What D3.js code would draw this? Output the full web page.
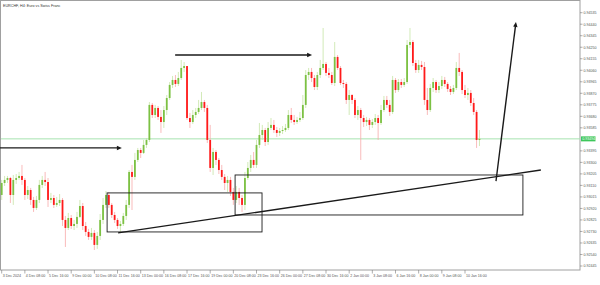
<!DOCTYPE html>
<html>
<head>
<meta charset="utf-8">
<script src="https://cdn.jsdelivr.net/npm/d3@7"></script>
<style>
  body { margin: 0; background: #fff; }
  svg { display: block; font-family: "Liberation Sans", Arial, sans-serif; }
</style>
</head>
<body>
<svg id="chart" width="600" height="285"></svg>
<script>
// EURCHF H4 candles (bar index 0 = 3 Dec 2024 00:00)
const opens = [0.93031,
  0.93130,0.93155,0.93171,0.93031,0.93155,0.93171,0.93188,0.93155,0.93031,0.93072,
  0.92990,0.92924,0.92990,0.93114,0.93155,0.93138,0.92990,0.93006,0.92949,0.92965,
  0.92990,0.92825,0.92759,0.92841,0.92775,0.92792,0.92850,0.92940,0.92775,0.92726,
  0.92685,0.92718,0.92619,0.92693,0.92825,0.92949,0.93031,0.92949,0.92866,0.92825,
  0.92775,0.92792,0.92858,0.92949,0.93221,0.93180,0.93320,0.93402,0.93378,0.93444,
  0.93485,0.93774,0.93691,0.93749,0.93675,0.93633,0.93732,0.93831,0.93939,0.93980,
  0.93947,0.93996,0.94079,0.94095,0.93666,0.93633,0.93691,0.93716,0.93749,0.93798,
  0.93749,0.93485,0.93254,0.93386,0.93320,0.93237,0.93180,0.93130,0.93155,0.93056,
  0.92990,0.93056,0.93006,0.92949,0.93171,0.93254,0.93320,0.93279,0.93444,0.93526,
  0.93567,0.93468,0.93584,0.93609,0.93567,0.93543,0.93559,0.93567,0.93584,0.93691,
  0.93650,0.93633,0.93650,0.93666,0.93774,0.94021,0.94046,0.93996,0.93922,0.94021,
  0.94079,0.94112,0.94038,0.94021,0.93955,0.94170,0.94079,0.93955,0.93947,0.93815,
  0.93856,0.93815,0.93691,0.93732,0.93666,0.93633,0.93650,0.93609,0.93633,0.93666,
  0.93625,0.93732,0.93815,0.93774,0.93716,0.93980,0.93897,0.93963,0.93939,0.93963,
  0.94269,0.94293,0.94120,0.94062,0.94104,0.94087,0.93815,0.93732,0.93914,0.93963,
  0.93897,0.93930,0.93980,0.93947,0.93906,0.93881,0.93914,0.94079,0.94046,0.93897,
  0.93856,0.93873,0.93790,0.93716,0.93485];

const closes = [
  0.93130,0.93155,0.93171,0.93031,0.93155,0.93171,0.93188,0.93155,0.93031,0.93072,
  0.92990,0.92924,0.92990,0.93114,0.93155,0.93138,0.92990,0.93006,0.92949,0.92965,
  0.92990,0.92825,0.92759,0.92841,0.92775,0.92792,0.92850,0.92940,0.92775,0.92726,
  0.92685,0.92718,0.92619,0.92693,0.92825,0.92949,0.93031,0.92949,0.92866,0.92825,
  0.92775,0.92792,0.92858,0.92949,0.93221,0.93180,0.93320,0.93402,0.93378,0.93444,
  0.93485,0.93774,0.93691,0.93749,0.93675,0.93633,0.93732,0.93831,0.93939,0.93980,
  0.93947,0.93996,0.94079,0.94095,0.93666,0.93633,0.93691,0.93716,0.93749,0.93798,
  0.93749,0.93485,0.93254,0.93386,0.93320,0.93237,0.93180,0.93130,0.93155,0.93056,
  0.92990,0.93056,0.93006,0.92949,0.93171,0.93254,0.93320,0.93279,0.93444,0.93526,
  0.93567,0.93468,0.93584,0.93609,0.93567,0.93543,0.93559,0.93567,0.93584,0.93691,
  0.93650,0.93633,0.93650,0.93666,0.93774,0.94021,0.94046,0.93996,0.93922,0.94021,
  0.94079,0.94112,0.94038,0.94021,0.93955,0.94170,0.94079,0.93955,0.93947,0.93815,
  0.93856,0.93815,0.93691,0.93732,0.93666,0.93633,0.93650,0.93609,0.93633,0.93666,
  0.93625,0.93732,0.93815,0.93774,0.93716,0.93980,0.93897,0.93963,0.93939,0.93963,
  0.94269,0.94293,0.94120,0.94062,0.94104,0.94087,0.93815,0.93732,0.93914,0.93963,
  0.93897,0.93930,0.93980,0.93947,0.93906,0.93881,0.93914,0.94079,0.94046,0.93897,
  0.93856,0.93873,0.93790,0.93716,0.93485,0.93494];

const highs = [
  0.93155,0.93188,0.93188,0.93180,0.93196,0.93204,0.93221,0.93279,0.93171,0.93105,
  0.93089,0.93015,0.93023,0.93155,0.93188,0.93221,0.93171,0.93048,0.93031,0.93015,
  0.93039,0.93006,0.92858,0.92883,0.92866,0.92825,0.92891,0.92990,0.92965,0.92808,
  0.92751,0.92759,0.92742,0.92726,0.92874,0.93006,0.93064,0.93056,0.92965,0.92891,
  0.92841,0.92817,0.92883,0.92990,0.93237,0.93279,0.93378,0.93419,0.93419,0.93485,
  0.93501,0.93798,0.93790,0.93774,0.93765,0.93732,0.93765,0.93856,0.93963,0.94013,
  0.94021,0.94046,0.94145,0.94128,0.94095,0.93708,0.93732,0.93749,0.93815,0.93881,
  0.93815,0.93774,0.93609,0.93419,0.93402,0.93336,0.93279,0.93204,0.93188,0.93180,
  0.93089,0.93105,0.93089,0.93031,0.93221,0.93303,0.93361,0.93386,0.93485,0.93625,
  0.93609,0.93584,0.93633,0.93666,0.93650,0.93592,0.93584,0.93600,0.93617,0.93732,
  0.93749,0.93691,0.93675,0.93716,0.93856,0.94062,0.94079,0.94079,0.94021,0.94046,
  0.94145,0.94409,0.94128,0.94079,0.94046,0.94293,0.94186,0.94095,0.93980,0.93963,
  0.93897,0.93864,0.93831,0.93765,0.93749,0.93691,0.93675,0.93666,0.93658,0.93699,
  0.93691,0.93774,0.93848,0.93848,0.93815,0.94013,0.93996,0.93988,0.93988,0.93996,
  0.94310,0.94409,0.94310,0.94145,0.94145,0.94137,0.94128,0.93914,0.93947,0.93996,
  0.93980,0.93963,0.94013,0.94005,0.93963,0.93930,0.93939,0.94128,0.94203,0.94062,
  0.93939,0.93914,0.93897,0.93831,0.93732,0.93567];

const lows = [
  0.92990,0.93105,0.93130,0.92965,0.92949,0.93122,0.93155,0.93114,0.92990,0.92998,
  0.92949,0.92891,0.92907,0.92965,0.93089,0.93105,0.92932,0.92965,0.92924,0.92932,
  0.92940,0.92775,0.92602,0.92742,0.92751,0.92742,0.92759,0.92841,0.92742,0.92693,
  0.92660,0.92660,0.92577,0.92586,0.92660,0.92792,0.92924,0.92924,0.92841,0.92800,
  0.92751,0.92726,0.92775,0.92825,0.92924,0.92907,0.93155,0.93303,0.93336,0.93369,
  0.93419,0.93468,0.93666,0.93666,0.93650,0.93543,0.93584,0.93691,0.93815,0.93914,
  0.93922,0.93930,0.93980,0.94046,0.93650,0.93584,0.93617,0.93666,0.93699,0.93732,
  0.93716,0.93460,0.93221,0.93196,0.93279,0.93204,0.93155,0.93072,0.93056,0.93023,
  0.92949,0.92965,0.92949,0.92891,0.92907,0.93155,0.93221,0.93254,0.93254,0.93419,
  0.93485,0.93435,0.93444,0.93567,0.93543,0.93510,0.93518,0.93534,0.93551,0.93567,
  0.93625,0.93609,0.93617,0.93633,0.93650,0.93749,0.93980,0.93963,0.93897,0.93897,
  0.93996,0.94062,0.94013,0.93996,0.93939,0.93930,0.94062,0.93939,0.93914,0.93782,
  0.93691,0.93782,0.93666,0.93650,0.93320,0.93592,0.93600,0.93567,0.93584,0.93609,
  0.93485,0.93609,0.93716,0.93749,0.93683,0.93699,0.93873,0.93881,0.93914,0.93922,
  0.93947,0.94244,0.94095,0.94038,0.94038,0.94062,0.93774,0.93691,0.93716,0.93881,
  0.93873,0.93873,0.93906,0.93922,0.93881,0.93856,0.93864,0.93897,0.94013,0.93864,
  0.93831,0.93815,0.93765,0.93691,0.93419,0.93435];

// time axis labels, one every 8 bars
const timeLabels = ["3 Dec 2024","4 Dec 08:00","5 Dec 16:00","9 Dec 00:00","10 Dec 08:00",
  "11 Dec 16:00","13 Dec 00:00","16 Dec 08:00","17 Dec 16:00","19 Dec 00:00","20 Dec 08:00",
  "23 Dec 16:00","26 Dec 00:00","27 Dec 08:00","30 Dec 16:00","2 Jan 00:00","3 Jan 08:00",
  "6 Jan 16:00","8 Jan 00:00","9 Jan 08:00","10 Jan 16:00"];

// price axis labels
const priceLabels = [0.94535,0.94440,0.94345,0.94250,0.94155,0.94060,0.93965,0.93870,
  0.93775,0.93680,0.93585,0.93395,0.93300,0.93205,0.93110,0.93015,0.92920,0.92825,
  0.92730,0.92635,0.92540,0.92445];

const lastPrice = 0.93494;

// drawing objects, anchored in bar index / price
const hArrows = [
  { i0: -0.6, i1: 41.5, p: 0.93419 },
  { i0: 59.9, i1: 107.2, p: 0.94186 },
];
const boxes = [
  { i0: 36.4, i1: 89.9, p0: 0.93048, p1: 0.92726 },
  { i0: 80.6, i1: 180.0, p0: 0.93196, p1: 0.92866 },
];
const trendLine = { i0: 40.2, p0: 0.92718, i1: 186.2, p1: 0.93237 };
const upArrow = { i0: 170.7, p0: 0.93146, i1: 177.6, p1: 0.94459 };

const plotRight = 580;
const plotBottom = 270;
const axisFont = 3.6;

const svg = d3.select('#chart');

const x = d3.scaleLinear().domain([0, 160]).range([1.7, 465]);
const y = d3.scaleLinear().domain([0.92445, 0.94535]).range([266, 12.7]);

// frame
svg.append('rect')
  .attr('x', 0.5).attr('y', 0.5)
  .attr('width', plotRight - 0.5).attr('height', plotBottom - 0.5)
  .attr('fill', 'none').attr('stroke', '#a0a0a0').attr('stroke-width', 1);

svg.append('text')
  .attr('x', 3).attr('y', 6.5)
  .attr('font-size', 3.7).attr('fill', '#333')
  .text('EURCHF, H4:  Euro vs Swiss Franc');

// current price line
svg.append('line')
  .attr('x1', 1).attr('x2', plotRight)
  .attr('y1', y(lastPrice)).attr('y2', y(lastPrice))
  .attr('stroke', '#a6e3b0').attr('stroke-width', 1);

// candles
const bars = d3.range(closes.length).map((i) => ({
  i, o: opens[i], h: highs[i], l: lows[i], c: closes[i],
}));

const g = svg.append('g');
g.selectAll('.wick')
  .data(bars)
  .join('line')
  .attr('class', 'wick')
  .attr('x1', (d) => x(d.i)).attr('x2', (d) => x(d.i))
  .attr('y1', (d) => y(d.h)).attr('y2', (d) => y(d.l))
  .attr('stroke', (d) => (d.c >= d.o ? '#c6e4a6' : '#f7a9a9'))
  .attr('stroke-width', 0.8);

g.selectAll('.body')
  .data(bars)
  .join('rect')
  .attr('class', 'body')
  .attr('x', (d) => x(d.i) - 0.9)
  .attr('width', 1.8)
  .attr('y', (d) => y(Math.max(d.o, d.c)))
  .attr('height', (d) => Math.max(0.8, Math.abs(y(d.o) - y(d.c))))
  .attr('fill', (d) => (d.c >= d.o ? '#7cc143' : '#ff1a1a'));

// drawing objects
const ann = svg.append('g').attr('stroke', '#1a1a1a').attr('fill', 'none');

boxes.forEach((b) => {
  ann.append('rect')
    .attr('x', x(b.i0)).attr('y', y(b.p0))
    .attr('width', x(b.i1) - x(b.i0))
    .attr('height', y(b.p1) - y(b.p0))
    .attr('stroke-width', 0.9);
});

ann.append('line')
  .attr('x1', x(trendLine.i0)).attr('y1', y(trendLine.p0))
  .attr('x2', x(trendLine.i1)).attr('y2', y(trendLine.p1))
  .attr('stroke-width', 1.4);

function arrowHead(x1, y1, x2, y2) {
  const a = Math.atan2(y2 - y1, x2 - x1);
  const len = 5;
  const w = 2.2;
  const bx = x2 - len * Math.cos(a);
  const by = y2 - len * Math.sin(a);
  const px = -Math.sin(a) * w;
  const py = Math.cos(a) * w;
  svg.append('path')
    .attr('d', `M${x2},${y2}L${bx + px},${by + py}L${bx - px},${by - py}Z`)
    .attr('fill', '#1a1a1a');
}

hArrows.forEach((a) => {
  const x1 = x(a.i0);
  const x2 = x(a.i1);
  ann.append('line')
    .attr('x1', x1).attr('x2', x2 - 3)
    .attr('y1', y(a.p)).attr('y2', y(a.p))
    .attr('stroke-width', 1.3);
  arrowHead(x1, y(a.p), x2, y(a.p));
});

{
  const x1 = x(upArrow.i0);
  const y1 = y(upArrow.p0);
  const x2 = x(upArrow.i1);
  const y2 = y(upArrow.p1);
  ann.append('line')
    .attr('x1', x1).attr('y1', y1)
    .attr('x2', x2 - (x2 - x1) * 0.02).attr('y2', y2 - (y2 - y1) * 0.02)
    .attr('stroke-width', 1.4);
  arrowHead(x1, y1, x2, y2);
}

// price axis
const yAxis = svg.append('g');
priceLabels.forEach((p) => {
  yAxis.append('line')
    .attr('x1', plotRight).attr('x2', plotRight + 2.5)
    .attr('y1', y(p)).attr('y2', y(p))
    .attr('stroke', '#777').attr('stroke-width', 0.6);
  yAxis.append('text')
    .attr('x', plotRight + 3.5).attr('y', y(p) + 1.3)
    .attr('font-size', axisFont).attr('fill', '#555')
    .text(p.toFixed(5));
});

yAxis.append('rect')
  .attr('x', plotRight + 1).attr('y', y(lastPrice) - 2.5)
  .attr('width', 14.5).attr('height', 5)
  .attr('fill', '#3ec75a');
yAxis.append('text')
  .attr('x', plotRight + 2.2).attr('y', y(lastPrice) + 1.3)
  .attr('font-size', axisFont).attr('fill', '#fff')
  .text(lastPrice.toFixed(5));

// time axis
const xAxis = svg.append('g');
timeLabels.forEach((t, k) => {
  const xi = x(k * 8);
  xAxis.append('line')
    .attr('x1', xi).attr('x2', xi)
    .attr('y1', plotBottom).attr('y2', plotBottom + 3.5)
    .attr('stroke', '#777').attr('stroke-width', 0.6);
  xAxis.append('text')
    .attr('x', xi + 1).attr('y', plotBottom + 7)
    .attr('font-size', axisFont).attr('fill', '#555')
    .text(t);
});
</script>
</body>
</html>
